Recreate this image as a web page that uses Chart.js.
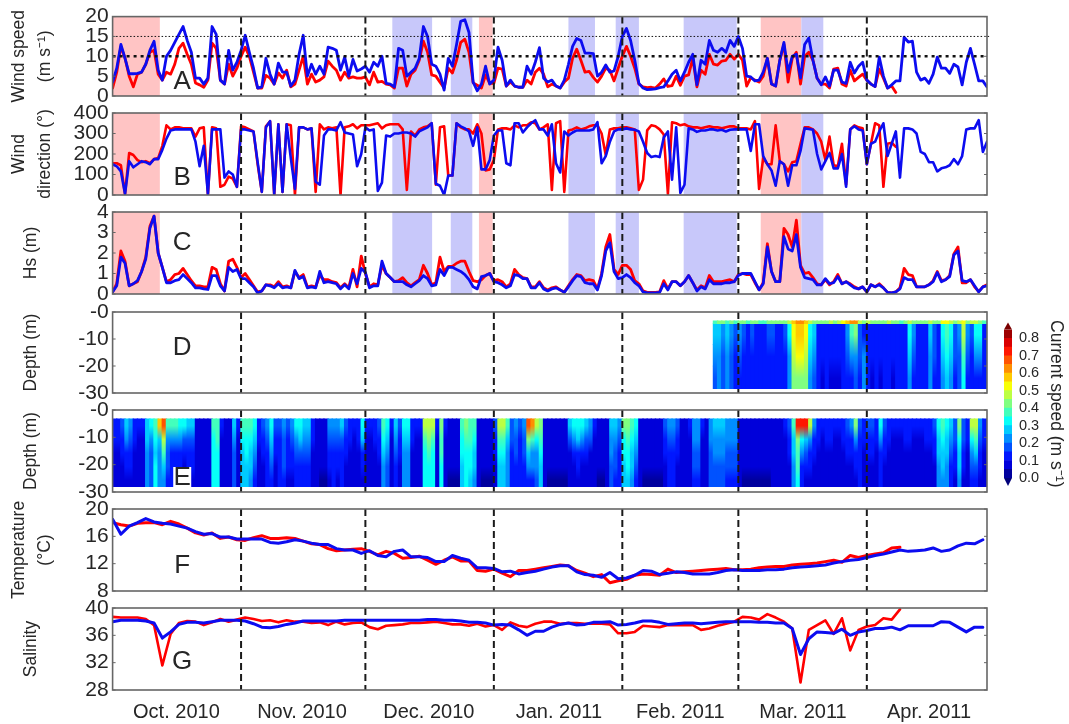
<!DOCTYPE html>
<html><head><meta charset="utf-8"><title>Time series</title>
<script src="https://cdn.jsdelivr.net/npm/chart.js@4/dist/chart.umd.min.js"></script>
<style>html,body{margin:0;padding:0;background:#fff;width:1069px;height:724px;overflow:hidden}
canvas{position:absolute;left:0;top:0;filter:blur(.45px)}</style></head><body>
<script>
const monthEnds=[31,61,92,123,151,182];
const monthMid=[15.4,45.7,76.3,107.7,137,166.6,197];
const monthLabels=['Oct. 2010','Nov. 2010','Dec. 2010','Jan. 2011','Feb. 2011','Mar. 2011','Apr. 2011'];
const redBands=[[0,11.4],[88.4,91.7],[156.4,166.2]];
const blueBands=[[67.5,77.1],[81.6,86.8],[110,116.4],[121.4,127],[137.8,150.6],[166.2,171.5]];
const speedRefs=[10,15];
const speedBlue=[3.5,7,13,9.5,5.6,5.6,5.7,6,8,11.5,
13.8,6.5,4,10,11.5,13.5,15.5,17.5,14,11,
4.5,4.5,3,4.5,17.5,15.5,4,3,11.5,6.5,
8.5,11.5,15.3,11,7,2,2.3,9.5,5.5,3,
8.3,6,6,2.5,4,10.5,15.3,5,8,5.5,
7.5,5.5,12.3,12,11.5,6.5,9.8,5,9.2,6.3,
6.8,7.5,6,8.5,7.5,10,3.2,3,2.3,12,
11.5,5,6,7,9.5,17.5,15,8,7.5,5.5,
1.5,9.5,7.5,13,18.8,19.2,16,3.5,1.3,3,
7.5,3,4,12.3,9,2.5,4,2.5,2.2,2.2,
7.5,5.5,8.5,12.2,4.5,3.5,4,2.5,2,4,
8,12.5,14.5,14,10.8,10.8,10.7,5,6,7.8,
6,6.3,10,15,17,14,9,3.2,2,1.6,
1.7,1.8,2.1,2.3,3.8,5.5,6.5,3.8,6,8.5,
10.5,2.8,9,8,14,11.5,11,12,11,14,
12.5,15,12,5,4.8,3.8,4,6,9.5,3,
2.5,9,13.5,6,10,10.5,4.5,13,14.6,9,
4.5,2.8,4.8,2.5,6.5,6.5,3.5,3.2,8.5,5.8,
7.5,8.5,4,3,2.4,9.8,5,2,2.8,3.8,
3.8,14.8,13.6,13.8,6,4,4.5,3.2,5.5,9.8,
7,7,5.7,8,7.3,2.8,8.5,12,8,3.8,
3.8,2.3];
const speedRed=[2,6,12.5,9.5,5,2.3,5.5,6,8,11,
11.5,5.5,4,6,5.5,8,12,13.3,10.5,8,
3.3,2.8,2.2,4,13.3,12,4,3,8,5,
7,10,12.3,10,6,2,2,5.2,4.5,3,
5.8,4.5,6.5,2.3,3,6.5,10,3,5.5,3.5,
4,4.8,8.8,7.5,6.5,4,6,4.5,4.8,4.5,
4.5,4.8,2.8,6,3.5,3.7,3,2.8,2,7,
7,2.5,5.5,6.5,9,13.8,11,5.3,5,3.5,
2,7,5.8,9,13.5,14.3,11,3.3,2.7,2,
5.3,3.2,3.2,7,6.8,2.5,3.5,2.5,2.2,2.2,
4,3,6,7,5.5,2.3,3,2.5,2,3.5,
4.5,9.5,11.8,9,6,6.2,4.7,3.5,5,7,
6.5,3.8,7,10,12.5,10,7,3,2.3,2.1,
2.2,2,3,4.3,2.4,2.6,5,2.7,5,5.3,
9.5,2.3,6.5,5.5,10.5,8,7.8,8.8,9,10.5,
9.3,10.5,9,2.5,4.6,4,3.5,5,9.5,3,
2.5,9,13,3.5,9.5,11,3,10,11,9,
4.5,3,3,2,6.8,7,3,2.5,6.5,3.8,
4.7,5.5,4,3,2.4,6.8,4.5,2,2.5,0.9];
const dirBlue=[150,140,115,5,165,135,150,165,160,150,
175,175,220,275,315,320,320,320,320,320,
260,140,240,5,320,320,320,85,115,100,
40,320,320,315,310,160,15,330,360,5,
345,15,345,180,30,330,330,320,325,65,
50,290,320,320,315,355,305,300,295,140,
200,330,315,320,20,60,290,285,300,300,
305,305,300,285,310,320,330,350,55,45,
0,95,95,350,335,325,310,240,330,125,
125,170,290,315,315,155,145,350,350,305,
330,350,365,320,320,290,345,155,110,310,
290,305,315,315,315,315,320,355,155,190,
260,310,320,320,325,320,318,310,260,205,
185,190,185,280,310,75,330,10,50,325,
320,308,315,315,320,320,315,318,310,318,
320,320,320,320,215,345,345,190,150,120,
45,165,150,45,145,145,215,325,322,318,
200,125,165,205,130,130,200,40,320,335,
320,315,150,250,260,310,350,190,250,310,
85,325,325,320,300,210,200,160,160,115,
130,135,145,175,150,190,320,325,325,365,
210,260];
const dirRed=[155,155,145,5,205,195,170,160,165,155,
175,180,240,340,320,330,330,325,325,325,
285,325,330,0,330,325,40,50,90,80,
40,335,330,320,310,150,15,335,360,0,
345,15,345,340,0,330,330,320,325,15,
345,320,330,325,330,0,330,335,345,325,
340,340,340,345,350,325,340,345,345,345,
320,25,310,290,320,330,335,350,50,330,
335,95,95,350,330,320,320,300,345,300,
120,125,170,320,325,325,320,340,330,340,
340,355,350,320,330,345,25,350,360,15,
315,320,330,320,325,335,340,340,300,195,
320,325,325,330,330,325,320,25,75,315,
340,335,320,295,5,355,350,340,345,335,
330,330,325,330,335,330,330,325,330,335,
335,325,325,325,320,360,30,180,150,150,
340,165,150,115,160,165,250,330,330,320,
300,260,170,285,145,140,250,50,320,340,
330,325,150,250,350,340,40,250,255,235];
const hsBlue=[.1,.4,1.8,1.5,.4,.5,.65,1.1,1.7,3.2,
3.8,2,1.3,.55,.55,.65,.7,.95,.75,.55,
.3,.3,.25,.22,.9,.9,.4,.15,1.3,1.1,
1.2,.75,.75,.55,.35,.05,.15,.45,.4,.3,
.5,.3,.35,.3,1.15,.75,.85,.3,.35,.3,
1.1,.55,.6,.55,.5,.25,.45,.25,1,.5,
1.25,1.05,.3,.4,.4,1.6,1,.8,.6,.6,
.6,.45,.35,.5,.65,.9,.75,.4,.45,1.2,
.9,1.3,1.3,1.2,1.1,.95,.7,.35,.25,.85,
.9,1,.6,.55,.45,.3,.4,.95,.9,.75,
.75,.3,.3,.55,.25,.15,.25,.3,.2,.08,
.35,.65,.9,.85,.55,.5,.5,.2,.9,2.1,
2.5,1.1,.75,.8,.95,.8,.55,.4,.1,.05,
.05,.05,.08,.5,.2,.6,.6,.4,.6,.9,
.55,.15,.35,.25,.7,.5,.5,.5,.55,.55,
.6,.9,1,1,1,.6,.2,.5,2.3,1.1,
.6,.6,2.8,2.2,2.1,2.9,1.3,.8,.75,.7,
.45,.45,.75,.5,.55,.85,.5,.6,.45,.3,
.25,.35,.1,.45,.35,.45,.3,.08,.05,.1,
.25,.8,.7,.7,.35,.35,.35,.45,.6,1.05,
.6,.7,.85,1.9,2.1,.65,.6,.7,.4,.1,
.35,.4];
const hsRed=[.1,.5,2.1,1.6,.4,.5,.6,1.1,1.8,3.3,
3.8,2,1.3,.6,.7,.95,1,1.25,.95,.65,
.4,.4,.35,.35,1.3,1.2,.5,.15,1.6,1.7,
1.3,.8,1,.7,.4,.1,.15,.45,.45,.35,
.6,.35,.4,.3,1.1,.8,.95,.35,.4,.35,
.9,.7,.7,.6,.55,.3,.5,.3,1.2,.35,
1.85,1,.35,.5,.45,1.4,1,.8,.6,.65,
.8,.55,.4,.55,.7,1.4,1,.45,.55,1.8,
1.1,1.35,1.35,1.5,1.6,1.6,1.1,.65,.6,.7,
.9,1,.65,.7,.6,.35,.5,1.2,.95,.8,
.75,.35,.35,.6,.3,.2,.3,.35,.2,.1,
.4,.7,.95,.9,.65,.7,.65,.25,1,2.3,
2.9,1.2,.95,1.4,1.4,1.2,.65,.5,.15,.08,
.08,.08,.1,.65,.25,.6,.6,.4,.6,.9,
.55,.2,.4,.3,.9,.6,.6,.6,.65,.7,
.6,.95,1,.95,.95,.55,.2,.55,2.45,1.1,
.6,.6,3.2,2.9,2.3,3.6,1.4,1,1.05,.8,
.5,.45,.7,.45,.6,.95,.5,.6,.5,.35,
.25,.35,.1,.45,.35,.5,.3,.08,.05,.1,
.3,1.25,.95,.9,.35,.35,.35,.45,.65,1.1,
.65,.7,.9,1.95,2.3,.55,.55,.7,.35,.12,
.35,.45];
const tempBlue=[18.5,16.3,17.5,18,18.6,18.1,17.9,17.8,17.5,17.2,
16.7,16.3,16.4,15.9,15.9,15.6,15.6,15.6,15.6,15.1,
15,15.2,15.5,15.3,15,14.8,14.8,14.2,14,14,
13.5,13.9,13.2,13,13.8,14,13,13,12.9,12.3,
12.3,13.2,12.8,12.5,11.4,11.4,11.3,10.8,10.9,10.5,
10.7,10.9,11.2,11.5,11.7,11.7,10.8,10.4,10.3,10,
10.7,9.8,9.9,10.3,11,10.9,10.4,10.6,10.8,10.7,
10.5,10.5,10.5,10.7,11,11.1,11,11,11,11.1,
11.1,11.2,11.4,11.5,11.6,11.7,11.8,12.1,12.3,12.5,
12.6,12.9,13.2,13.4,13.7,14,13.8,13.9,14,14.3,
13.8,14,14.6,15,14.9,15.5];
const tempRed=[18,17.7,17.5,17.9,18,18,17.7,18.2,17.8,17.2,
16.5,16.2,16.5,15.7,15.9,15.5,15.4,15.8,16.1,15.7,
15.7,15.8,15.7,15.3,14.9,14.8,14.2,13.9,14,14.1,
14.2,13.8,13.3,13.8,13.5,12.8,12.9,13.1,12.5,11.9,
12.5,13,12.4,12.4,11,10.9,11.2,10.6,10.1,11,
11,11.2,11.4,11.6,11.8,11.7,11,10.6,10.1,10.4,
9.2,9.5,9.7,10.3,10.5,10.4,10.3,11.2,10.7,10.8,
10.9,11,11.1,11.2,11.3,11.1,11.1,11.2,11.4,11.5,
11.6,11.6,11.8,11.9,12,12.1,12.3,12.5,12.2,13.2,
12.9,13.2,13.4,13.6,14.3,14.4];
const salBlue=[38,38.2,38.2,38.2,38.1,37.8,35.6,36.5,37.6,37.9,
37.9,37.8,38,38.2,38.2,38.2,38.1,37.7,37.2,37.1,
37.3,37.6,37.8,38.1,38.1,38.1,38.1,38.1,38.2,38.2,
38.2,38.2,38.2,38.2,38.2,38.2,38.2,38.2,38.3,38.3,
38.2,38.2,38.1,37.9,37.9,37.8,37.5,37.6,37.5,36.8,
36,36.6,36.6,37.2,37.6,37.8,37.5,37.6,37.9,37.9,
38,37.5,37.6,37.8,38.1,38.1,37.9,37.6,37.7,37.8,
37.8,37.7,37.8,37.9,38,38,38,38,37.9,37.9,
37.8,37.8,37,33.2,35.5,36.5,36.4,36.3,36.9,36,
36.5,36.7,37,37,37.2,36.8,37.4,37.4,37.4,37.4,
38,37.9,37.2,36.5,37.2,37.2];
const salRed=[38.7,38.6,38.6,38.6,38.4,37.5,31.6,36.2,37.8,38.1,
38,37.5,37.9,38.4,38,38.3,38.6,38.4,38.1,38.2,
37.9,38.2,38,38,37.8,37.9,37.5,38,37.6,37.8,
37.9,37.2,36.9,37.4,37.5,37.6,37.8,37.8,37.9,38,
37.8,37.6,37.6,37.4,37.7,37.3,37.5,36.8,37.9,37.4,
37.2,37.7,38,38,37.7,37.8,37.8,37.7,37.7,37.7,
37.6,36.3,36.3,36.5,37.4,37.3,37.2,37.5,37.5,37.5,
37.5,36.8,37,37.4,37.7,38,38.7,38.6,38.3,39.1,
38.6,38,37,29.1,36.8,37.5,38.2,36.2,38.5,33.8,
36.8,37.3,37.5,38.5,38.3,39.8];
// current speed, cm/s, daily from 1 Oct, one array per depth band
const depthBandsE=[[-3.2,-7],[-7,-12],[-12,-17],[-17,-22],[-22,-28]];
const currentE1=[12,12,18,28,22,12,10,10,28,30,38,55,65,38,36,36,34,30,28,25,
8,8,8,8,35,38,10,8,8,25,10,35,38,38,30,12,15,20,30,15,
15,20,15,20,30,30,28,28,12,8,7,7,22,22,20,25,15,12,10,12,
32,10,10,12,15,35,30,10,25,15,32,32,12,10,10,45,48,45,10,42,
10,8,8,8,38,42,38,35,8,7,7,7,15,45,45,35,18,20,15,22,
65,62,45,42,8,8,8,7,7,7,25,32,32,30,28,22,10,7,7,8,
25,28,20,40,42,38,30,8,7,7,7,7,7,15,22,22,15,8,8,10,
22,22,10,8,22,25,25,25,22,22,22,8,7,7,7,7,7,7,7,8,
8,8,10,15,35,70,72,70,45,20,12,10,12,12,10,10,12,15,20,42,
18,12,15,15,12,32,15,12,10,10,10,12,12,10,10,10,12,12,15,32,
35,32,25,18,42,18,12,45,48,20,12];
const currentE2=[10,10,14,22,18,10,8,8,25,20,30,25,45,24,24,22,20,18,18,18,
7,7,7,7,33,35,8,7,7,20,8,30,32,32,25,10,12,16,25,12,
12,18,12,16,22,25,22,22,10,7,6,6,16,18,16,18,12,10,8,10,
25,9,9,10,12,30,25,8,20,12,28,28,10,8,8,38,40,38,8,38,
8,6,6,6,33,38,35,30,7,6,6,6,12,35,35,28,16,18,14,18,
40,38,30,35,7,6,6,6,6,6,15,22,25,22,18,15,8,6,6,7,
22,22,16,33,35,32,25,7,6,6,6,6,6,12,18,18,12,7,7,8,
20,20,8,7,20,22,22,22,20,20,20,7,6,6,6,6,6,6,6,7,
7,7,8,12,28,42,32,28,22,14,10,8,10,10,8,8,10,12,14,22,
14,10,12,12,10,22,12,10,8,8,8,10,10,8,8,8,10,10,12,28,
30,28,20,15,32,15,10,32,38,15,10];
const currentE3=[8,8,10,14,12,8,7,7,24,18,28,22,35,16,14,12,12,10,12,14,
6,6,6,6,32,33,7,6,6,18,7,28,30,28,20,9,10,14,20,10,
12,16,11,12,16,18,16,16,8,6,5,5,12,14,12,14,10,8,7,8,
14,8,8,9,10,25,20,7,16,10,24,24,8,7,7,33,35,33,7,35,
7,5,5,5,30,34,32,28,6,5,5,5,10,30,30,24,14,16,12,15,
26,24,22,30,6,5,5,5,5,5,9,12,14,12,10,9,6,5,5,6,
20,18,14,30,32,28,20,6,5,5,5,5,5,10,14,14,10,6,6,7,
18,18,7,6,18,20,20,20,18,18,18,6,5,5,5,5,5,5,5,6,
6,6,7,10,25,38,22,16,12,10,8,7,8,8,7,7,8,10,10,12,
12,8,10,10,8,14,10,8,7,7,7,8,8,7,7,7,8,8,10,25,
28,25,16,12,28,12,8,22,25,12,8];
const currentE4=[7,7,8,10,10,7,6,6,22,17,30,20,28,18,14,12,10,9,12,10,
6,6,6,6,33,32,7,6,6,16,6,28,28,25,16,8,9,14,18,9,
14,18,10,10,12,14,13,12,7,5,5,5,10,12,10,12,9,7,6,7,
10,7,7,8,9,22,18,6,14,9,22,22,7,6,6,32,33,32,6,34,
6,5,5,5,28,32,30,26,5,5,5,5,9,28,28,22,12,14,11,13,
22,20,20,28,5,5,5,5,5,5,7,8,10,9,8,7,5,5,5,5,
18,16,12,28,30,26,16,5,5,5,5,5,5,9,12,12,9,5,5,6,
16,16,6,5,16,18,18,18,16,16,16,5,5,5,5,5,5,5,5,5,
5,5,6,9,22,35,14,11,10,8,7,6,7,7,6,6,7,8,8,10,
11,7,9,9,7,12,9,7,6,6,6,7,7,6,6,6,7,7,9,22,
26,22,14,10,25,10,7,16,18,10,7];
const currentE5=[7,7,7,8,8,6,6,6,22,16,32,20,24,14,10,9,8,8,9,8,
5,5,5,5,32,30,6,5,5,15,6,28,28,24,14,7,8,12,14,8,
12,14,9,8,10,12,11,10,6,5,4,4,9,10,9,10,8,6,6,6,
8,6,6,7,8,20,15,6,12,8,20,20,6,5,5,30,32,30,5,32,
5,4,4,4,28,30,28,24,5,4,4,4,8,26,26,20,10,12,10,11,
14,14,16,26,5,4,4,4,4,4,6,7,8,7,7,6,5,4,4,5,
16,14,10,26,28,24,14,5,4,4,4,4,4,8,10,10,8,5,5,5,
14,14,5,5,15,16,16,16,14,14,14,5,4,4,4,4,4,4,4,5,
5,5,5,8,20,30,10,9,8,7,6,5,6,6,5,5,6,7,7,8,
10,6,8,8,6,10,8,6,5,5,5,6,6,5,5,5,6,6,8,20,
24,20,12,9,22,9,6,12,12,8,6];
// mooring record starts on day 145
const firstDayD=145;
const depthBandsD=[[-3.3,-4.3],[-4.3,-12],[-12,-20],[-20,-28.4]];
const currentD0=[35,40,40,38,40,35,40,42,38,40,40,35,38,42,40,42,40,40,45,55,
60,62,58,45,42,40,40,42,45,42,45,50,55,60,62,45,40,45,42,40,
40,42,45,40,42,38,40,45,42,40,40,42,45,42,40,50,50,45,42,45,
50,42,48,45,40,38];
const currentD1=[25,28,20,28,22,15,22,18,14,16,14,12,14,16,16,14,14,15,30,50,
55,58,50,32,26,14,12,14,12,12,12,14,22,38,40,18,14,12,10,12,
12,12,14,12,12,12,14,32,20,14,12,14,28,18,14,30,36,30,18,20,
45,20,16,32,30,14];
const currentD2=[22,24,18,24,18,14,18,14,12,14,12,11,12,13,12,12,12,12,24,48,
50,50,46,26,22,12,10,12,10,10,10,12,16,22,24,16,22,11,10,11,
10,11,12,10,11,11,12,28,16,12,12,12,24,15,12,26,32,26,16,18,
38,16,14,22,20,12];
const currentD3=[18,20,16,20,16,12,14,12,10,12,10,10,10,12,10,10,10,10,20,42,
44,44,42,22,18,10,9,10,9,9,9,10,12,14,15,14,24,10,9,10,
9,10,10,9,10,10,10,24,14,10,10,10,20,14,10,22,28,22,14,15,
32,14,12,14,13,10];
const colorLevels=[0,.05,.1,.15,.2,.25,.3,.35,.4,.45,.5,.55,.6,.65,.7,.75,.8,.85];

const FONT='"Liberation Sans",Arial,sans-serif', INK='#262626', BOX='#666';
const RED='#ff0000', BLUE='#0c0cf0';
const clamp=v=>Math.round(255*Math.max(0,Math.min(1,v)));
function jet(t){return `rgb(${clamp(1.5-Math.abs(4*t-3))},${clamp(1.5-Math.abs(4*t-2))},${clamp(1.5-Math.abs(4*t-1))})`;}
function speedColor(cm){const n=colorLevels.length-1;const i=Math.min(n-1,Math.floor(cm/5));return jet((i+.5)/n);}
const series=(vals,step)=>vals.map((y,i)=>({x:i*step,y}));
const line=(label,vals,color,step,w)=>({label,data:series(vals,step),borderColor:color,borderWidth:w,pointRadius:0,tension:0,fill:false,borderJoinStyle:'round',borderCapStyle:'round'});
const heat=(band,vals,first)=>({label:band.join('..'),
  data:vals.map((v,i)=>({x:first+i+.5,y:band})),
  backgroundColor:vals.map(speedColor),borderWidth:0,barThickness:4.9,grouped:false});
function makeCanvas(){const c=document.createElement('canvas');c.width=1069;c.height=724;document.body.appendChild(c);return c;}

function smoothHeat(ch,p){
  const {ctx,canvas,scales:{x,y}}=ch,s=p.smooth;
  const l=Math.round(x.getPixelForValue(s.from)),r=Math.round(x.getPixelForValue(s.to));
  const t=Math.round(y.getPixelForValue(s.top)),b=Math.round(y.getPixelForValue(s.bottom));
  const w=r-l,h=b-t;
  const off=document.createElement('canvas');off.width=w;off.height=s.rows;
  off.getContext('2d').drawImage(canvas,l,t,w,h,0,0,w,s.rows);
  const full=document.createElement('canvas');full.width=w;full.height=h;
  const fc=full.getContext('2d');fc.imageSmoothingEnabled=true;fc.imageSmoothingQuality='high';
  fc.drawImage(off,0,0,w,s.rows,0,0,w,h);
  ctx.save();ctx.beginPath();ctx.rect(l,t,w,h);ctx.clip();
  ctx.drawImage(full,l,t);
  ctx.filter='blur(.7px)';ctx.drawImage(full,l,t);
  ctx.restore();
}

function panelPlugin(p){return{id:'panel'+p.letter,
 beforeDatasetsDraw(ch){
  const {ctx,chartArea:a,scales:{x}}=ch;
  if(!p.bands)return;
  ctx.save();
  [[redBands,'#ffc4c4'],[blueBands,'#c8c8fa']].forEach(([list,col])=>{
    ctx.fillStyle=col;
    list.forEach(([s,e])=>{const l=x.getPixelForValue(s),r=x.getPixelForValue(e);ctx.fillRect(l,a.top,r-l,a.bottom-a.top);});
  });
  ctx.restore();
 },
 afterDatasetsDraw(ch){
  const {ctx,chartArea:a,scales:{x,y}}=ch;
  if(p.smooth)smoothHeat(ch,p);
  ctx.save();
  if(p.refs){
    ctx.strokeStyle='#111';
    ctx.lineWidth=1;ctx.setLineDash([1.5,2]);ctx.beginPath();ctx.moveTo(a.left,y.getPixelForValue(p.refs[1]));ctx.lineTo(a.right+3,y.getPixelForValue(p.refs[1]));ctx.stroke();
    ctx.lineWidth=2.6;ctx.setLineDash([3,4]);ctx.beginPath();ctx.moveTo(a.left,y.getPixelForValue(p.refs[0]));ctx.lineTo(a.right,y.getPixelForValue(p.refs[0]));ctx.stroke();
  }
  ctx.setLineDash([7,4]);ctx.lineWidth=2;ctx.strokeStyle='#1a1a1a';
  monthEnds.forEach(d=>{const px=x.getPixelForValue(d);ctx.beginPath();ctx.moveTo(px,a.top);ctx.lineTo(px,a.bottom);ctx.stroke();});
  ctx.setLineDash([]);ctx.strokeStyle=BOX;ctx.lineWidth=1;
  y.ticks.forEach(t=>{const py=y.getPixelForValue(t.value);ctx.beginPath();ctx.moveTo(a.left,py);ctx.lineTo(a.left+3,py);ctx.moveTo(a.right-3,py);ctx.lineTo(a.right,py);ctx.stroke();});
  ctx.lineWidth=1.6;ctx.strokeRect(a.left,a.top,a.right-a.left,a.bottom-a.top);
  ctx.font='26px '+FONT;ctx.textAlign='center';ctx.textBaseline='middle';
  const lx=x.getPixelForValue(16.8);
  if(p.letterBg){ctx.fillStyle='#fff';ctx.fillRect(lx-9,p.letterY-11,18,22);}
  ctx.fillStyle=INK;ctx.fillText(p.letter,lx,p.letterY);
  ctx.restore();
 }};}

function panel(p){
 const titleLines=Array.isArray(p.title);
 const cfg={type:p.type||'line',
  data:{datasets:p.datasets},
  plugins:[panelPlugin(p)],
  options:{responsive:false,animation:false,events:[],
   layout:{padding:{top:p.top,bottom:p.months?0:724-p.bottom,left:0,right:82}},
   plugins:{legend:{display:false},tooltip:{enabled:false},title:{display:false}},
   scales:{
    x:{type:'linear',min:0,max:211,offset:false,grid:{display:false,drawTicks:false},border:{display:false},
      afterFit:s=>{s.height=p.months?724-p.bottom:0;},
      afterBuildTicks:s=>{s.ticks=monthMid.map(value=>({value}));},
      ticks:{display:!!p.months,autoSkip:false,maxRotation:0,padding:10,color:INK,font:{family:FONT,size:20},
        callback:(v,i)=>monthLabels[i]}},
    y:{type:'linear',min:p.min,max:p.max,grid:{display:false,drawTicks:false},border:{display:false},
      afterFit:s=>{s.width=112.6;},
      ticks:{stepSize:p.step,autoSkip:false,padding:4,color:INK,font:{family:FONT,size:21},
        callback:p.fmt||(v=>String(v))},
      title:{display:true,text:p.title,color:INK,
        font:{family:FONT,size:17.5,lineHeight:titleLines?26/17.5:1.2},
        padding:{top:titleLines?6:20.5,bottom:0}}}
   }}};
 return new Chart(makeCanvas(),cfg);
}

const depthFmt=v=>v===0?'-0':String(v);
panel({letter:'A',letterY:82,top:14,bottom:96,min:0,max:20,step:5,title:['Wind speed','(m s⁻¹)'],bands:true,refs:speedRefs,
 datasets:[line('Blue wind speed',speedBlue,BLUE,1,2.8),line('Red wind speed',speedRed,RED,1,2.8)]});
panel({letter:'B',letterY:178,top:113,bottom:195,min:0,max:400,step:100,title:['Wind','direction (°)'],bands:true,
 datasets:[line('Blue wind direction',dirBlue,BLUE,1,2.6),line('Red wind direction',dirRed,RED,1,2.6)]});
panel({letter:'C',letterY:243,top:212,bottom:294,min:0,max:4,step:1,title:'Hs (m)',bands:true,
 datasets:[line('Blue Hs',hsBlue,BLUE,1,2.8),line('Red Hs',hsRed,RED,1,2.8)]});
panel({letter:'D',type:'bar',letterY:348,top:312,bottom:393,min:-30,max:0,step:10,title:'Depth (m)',fmt:depthFmt,
 smooth:{from:firstDayD,to:211,top:-4.3,bottom:-28.4,rows:3},
 datasets:[currentD0,currentD1,currentD2,currentD3].map((v,i)=>heat(depthBandsD[i],v,firstDayD))});
panel({letter:'E',type:'bar',letterY:478,letterBg:true,top:410,bottom:492,min:-30,max:0,step:10,title:'Depth (m)',fmt:depthFmt,
 smooth:{from:0,to:211,top:-3.2,bottom:-28,rows:5},
 datasets:[currentE1,currentE2,currentE3,currentE4,currentE5].map((v,i)=>heat(depthBandsE[i],v,0))});
panel({letter:'F',letterY:566,top:509,bottom:591,min:8,max:20,step:4,title:['Temperature','(°C)'],
 datasets:[line('Blue temperature',tempBlue,BLUE,2,3),line('Red temperature',tempRed,RED,2,3)]});
panel({letter:'G',letterY:662,top:608,bottom:690,min:28,max:40,step:4,title:'Salinity',months:true,
 datasets:[line('Blue salinity',salBlue,BLUE,2,3),line('Red salinity',salRed,RED,2,2.6)]});

// colour bar
new Chart(makeCanvas(),{type:'bar',
 data:{labels:['Current speed'],datasets:colorLevels.slice(0,-1).map((lo,i)=>({
   label:String(lo),data:[[lo,colorLevels[i+1]]],backgroundColor:speedColor(lo*100+.01),borderWidth:0,barThickness:8,grouped:false}))},
 plugins:[{id:'tips',afterDatasetsDraw(ch){
   const {ctx,chartArea:a}=ch;ctx.save();
   const mid=(a.left+a.right)/2;
   ctx.fillStyle='#7a0000';ctx.beginPath();ctx.moveTo(a.left,a.top);ctx.lineTo(a.right,a.top);ctx.lineTo(mid,a.top-7);ctx.closePath();ctx.fill();
   ctx.fillStyle='#00007a';ctx.beginPath();ctx.moveTo(a.left,a.bottom);ctx.lineTo(a.right,a.bottom);ctx.lineTo(mid,a.bottom+8);ctx.closePath();ctx.fill();
   ctx.restore();}}],
 options:{responsive:false,animation:false,events:[],
  layout:{padding:{top:329.5,bottom:724-478,left:1004,right:0}},
  plugins:{legend:{display:false},tooltip:{enabled:false}},
  scales:{
   x:{display:false},
   y:{position:'right',min:0,max:.85,grid:{display:false,drawTicks:false},border:{display:false},
     afterFit:s=>{s.width=57;},
     afterBuildTicks:s=>{s.ticks=[0,.1,.2,.3,.4,.5,.6,.7,.8].map(value=>({value}));},
     ticks:{autoSkip:false,padding:7,color:INK,font:{family:FONT,size:14.5},callback:v=>v.toFixed(1)},
     title:{display:true,text:'Current speed (m s⁻¹)',color:INK,font:{family:FONT,size:17.5},padding:{top:2.5,bottom:0}}}
  }}});
</script></body></html>
